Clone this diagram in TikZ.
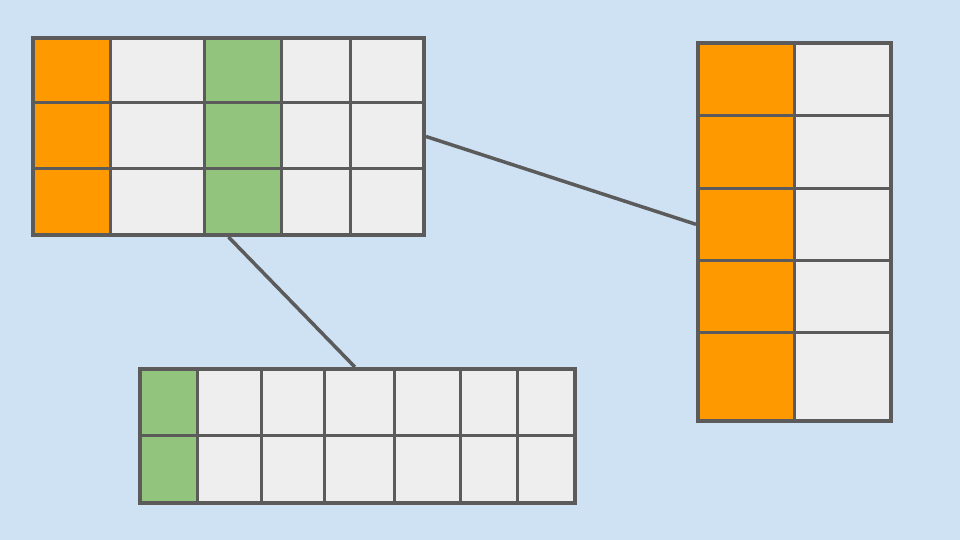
\documentclass[tikz,border=0pt]{standalone}
\usepackage{tikz}
\usetikzlibrary{positioning,calc}
\definecolor{bgblue}{HTML}{CFE2F3}
\definecolor{edgegray}{HTML}{5B5B5B}
\definecolor{cellempty}{HTML}{EEEEEE}
\definecolor{cellorange}{HTML}{FF9900}
\definecolor{cellgreen}{HTML}{93C47D}
\tikzstyle{cell}=[draw=edgegray,line width=3pt]
\tikzstyle{frame}=[draw=edgegray,line width=4pt,rectangle,inner sep=0pt]
\tikzstyle{link}=[draw=edgegray,line width=3.5pt]

\begin{document}
\begin{tikzpicture}[x=1pt,y=-1pt]
    \fill[bgblue] (0,0) rectangle (960,540);
    % wide table, top left
    \foreach \xa/\xb/\c in {33/110/cellorange,110/204/cellempty,204/281/cellgreen,281/350/cellempty,350/424/cellempty}
      \foreach \ya/\yb in {38/103,103/169,169/235}
        \filldraw[cell,fill=\c] (\xa,\ya) rectangle (\xb,\yb);
    \node [frame,minimum width=391pt,minimum height=197pt] (tbl) at (228.5,136.5) {};
    % column, right
    \foreach \ya/\yb in {43/116,116/188,188/260,260/332,332/421} {
        \filldraw[cell,fill=cellorange] (698,\ya) rectangle (794,\yb);
        \filldraw[cell,fill=cellempty] (794,\ya) rectangle (891,\yb);
    }
    \node [frame,minimum width=193pt,minimum height=378pt] (col) at (794.5,232) {};
    % row, bottom
    \foreach \xa/\xb/\c in {140/197/cellgreen,197/261/cellempty,261/324/cellempty,324/394/cellempty,394/460/cellempty,460/517/cellempty,517/575/cellempty}
      \foreach \ya/\yb in {369/435,435/503}
        \filldraw[cell,fill=\c] (\xa,\ya) rectangle (\xb,\yb);
    \node [frame,minimum width=435pt,minimum height=134pt] (row) at (357.5,436) {};
    % links
    \draw[link] (tbl.east) -- ($(col.north west)!0.48!(col.south west)$);
    \draw[link] (tbl.south) -- ($(row.north west)!0.494!(row.north east)$);
\end{tikzpicture}
\end{document}
